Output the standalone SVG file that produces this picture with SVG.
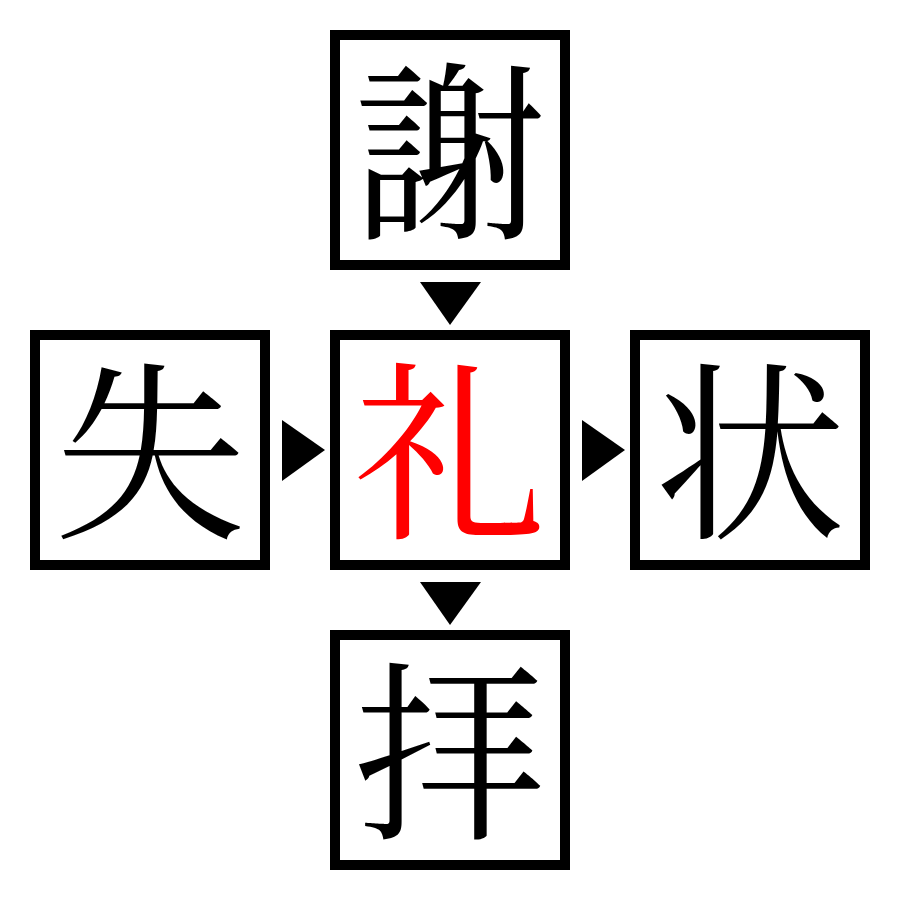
<svg xmlns="http://www.w3.org/2000/svg" width="900" height="900" viewBox="0 0 900 900">
<style>
.box{fill:#fff;stroke:#000;stroke-width:10}
.ch{font-family:"Noto Serif CJK JP","Noto Sans CJK JP",serif;font-size:192px;text-anchor:middle;dominant-baseline:central;fill:#000}
.red{fill:#f00}
.arr{fill:#000}
</style>
<rect width="900" height="900" fill="#fff"/>
<g id="connectors">
<polygon class="arr" points="420,282 481,282 450,325"/>
<polygon class="arr" points="420,582 481,582 450,625"/>
<polygon class="arr" points="282,420 282,481 325,450"/>
<polygon class="arr" points="582,420 582,481 625,450"/>
</g>
<g id="node-top"><rect class="box" x="335" y="35" width="230" height="230"/><text class="ch" x="450" y="141">謝</text></g>
<g id="node-left"><rect class="box" x="35" y="335" width="230" height="230"/><text class="ch" x="150" y="441">失</text></g>
<g id="node-center"><rect class="box" x="335" y="335" width="230" height="230"/><text class="ch red" x="450" y="441">礼</text></g>
<g id="node-right"><rect class="box" x="635" y="335" width="230" height="230"/><text class="ch" x="750" y="441">状</text></g>
<g id="node-bottom"><rect class="box" x="335" y="635" width="230" height="230"/><text class="ch" x="450" y="741">拝</text></g>
</svg>
